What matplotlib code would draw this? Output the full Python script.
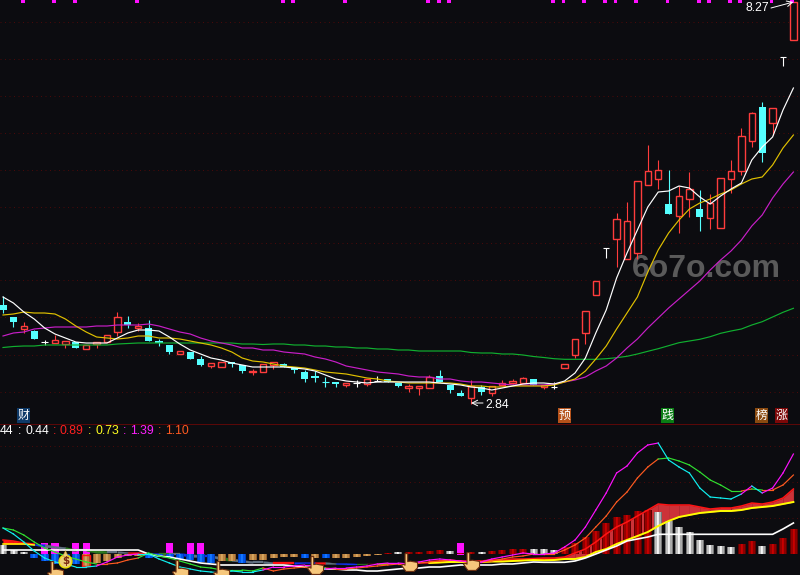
import numpy as np
import matplotlib
matplotlib.use("Agg")
import matplotlib.pyplot as plt
from matplotlib.path import Path

kinds = list("ccrcwrrcrrrrcrcccrccrrccrr" "rccccccrwrwccrrrcccrcrrrrc" "rwrrrrwrrrrrcrrcrrrrrcrwr")
body_top = [305,317,326,331,342,340,341,342,345,342,335,317,322,326,328,341,345,351,352,359,363,362,362,365,371,364,
            362,364,367,372,376,382,382,383,383,379,381,379,383,386,386,377,376,385,393,386,387,386,383,381,378,379,
            385,387,364,339,311,281,248,219,221,181,171,170,204,196,189,209,203,178,171,136,113,107,108,57,2]
body_bot = [310,322,329,339,342,343,344,348,349,344,342,332,325,328,341,343,352,354,359,365,366,367,364,371,372,372,
            365,367,370,379,378,382,384,385,383,384,381,382,386,388,388,388,382,390,396,398,392,393,385,383,383,385,
            387,387,368,355,333,295,248,239,259,253,185,179,214,216,199,217,218,228,179,171,141,153,123,57,40]
wick_high = [296,317,322,330,340,335,341,342,345,342,335,312,316,323,320,339,345,351,352,356,363,362,362,365,369,364,
             362,363,367,370,371,377,382,383,380,379,376,379,383,384,386,375,370,385,390,380,385,386,380,379,377,379,
             385,382,364,339,311,281,248,213,202,181,145,160,170,186,172,190,194,178,160,128,112,102,108,57,2]
wick_low = [313,327,333,339,345,343,348,348,349,348,342,336,328,331,341,346,354,354,359,366,368,367,367,373,375,372,
            369,367,373,382,382,387,387,387,387,386,381,382,387,392,395,388,382,393,396,404,395,396,385,384,383,385,
            389,389,368,358,344,295,258,267,259,259,185,189,214,233,217,231,229,228,193,175,147,162,135,66,40]

ma_white = [297,303,312,319,328,334,338,342,343,343,343,338,333,330,330,331,337,344,350,354,358,360,363,365,367,367,
            367,367,368,369,371,375,379,381,382,383,382,382,382,382,382,382,383,384,385,387,388,390,388,386,384,383,
            383,384,381,373,358,333,310,278,253,230,207,192,191,186,188,197,204,196,189,183,160,147,137,110,88]
ma_yellow = [315,314,312,313,313,314,319,326,332,337,338,339,338,336,336,338,338,339,341,343,345,348,352,358,361,362,
             364,366,367,368,370,372,373,374,376,378,379,381,382,383,383,383,383,383,384,386,386,387,387,386,386,386,
             386,385,382,379,371,359,346,329,313,297,272,250,233,220,209,203,199,194,190,184,179,177,165,148,135]
ma_purple = [336,333,332,329,328,327,327,327,327,326,326,325,325,325,324,326,329,332,334,338,341,343,345,348,348,350,
             350,352,353,354,357,359,362,366,368,370,372,373,374,376,377,377,379,379,381,382,382,383,384,385,385,385,
             385,384,382,380,377,371,366,358,348,339,328,318,308,299,290,281,270,260,251,240,226,215,198,184,172]
ma_green = [347.5,346.5,346,346,345,345,345,345,345,345,345,344,343.5,343,343,343,343,343,343,343,343,343,343,344,344,344.5,
            344,344,345,345,346,346,347,347,348,348,349,349,350,350,351,351,351,351,351,352.5,353,353,354,354,355,356.5,
            357.5,358.7,359.3,359.3,359.3,359.3,358.7,357.7,356.3,354,351.3,348.7,345.7,342.7,341,339.3,336.7,333.3,331,329,325,321.7,317,312.3,308.3]

bar_kinds = list("sssbbbbbttttttbbbbbbbttbtt" "tttbtbtttttdsddddsddsdddds" "ssdddddddddssssssssddsddd")
bar_tip = [546,551,553,558,561,564,564,564,566,563,561,558,556.5,556.5,558,557,558,559,560,562,563,561,561,563,560,560,
           558,557,557,558,558,558,558,558,557,556,555,553.5,553,553,552.5,552,551,552,554,553,553,552,551,550,550,550,
           550,551,548,544,538,532,524,518,516,512,511,513,522,528,533,541,546,547,548,545,542,547,545,539,530]
magenta_bars = [4,5,7,8,16,18,19,44]
magenta_tip = 543
boxed_bar = 8

osc_white = [550,550,550,550,550,550,550,550,550,550,550,550,550,550,554,556,557,559,561,563,564,565,565,565,565,565,
             565,565,566,567,568,569,569,570,570,571,571,570,569,568,568,567,567,566,565,565,565,565,564,564,563,562,
             562.3,562.3,562.3,561,558,554,550,546,541,539,537,534.3,534.3,534.3,534.3,534.3,534.3,534.3,534.3,534.3,534.3,534.3,534.3,529,523]
band_upper = [540,541,543,544,544,546,547,549,549,550,551,551,552,552,553,553,553,553,554,555,555,557,558,560,561,561,
              562,562,562,562,562,562,563,563,563.5,563.5,563.5,563,563,563,562.5,561.5,561,560.5,561,561,561,560,560,559,559,558.5,
              558,558,557,553,549,542,534,527,522,516,510,504,505,505,505,507,509,508,508,506,503,504,502,498,489]
band_lower = [544,544,544,545,547,548,550,551,551,553,553,553,553,554,556,555,555,555,557,557,557,560,561,562,563,563,
              564,564,564,563,563.5,564,564,564.5,564.5,564,564,564,564,563.5,563,563,562.5,562,562,562,562,561.5,561.5,561,560.5,560,
              560.3,560,559,559,557,552,549,544,540,536,532,526,521,517,515,513,512,511,511,510,508,507,506,504,502]
band_kinds = list("rrbbssgsggssrrbgsbsbsgssss" "rrbbrsbbgrymrrrrrrrrrrrrrr") + ["r"] * 25
fast_line = [528,534,542,551,558,562,564,567,567,566,562,557,555,554,554,559,563,567,569,571,572,573,571,572,572,570,
             567,567,566,565,565,569,568,568,567,566,564,563,563,564,562,560,559,560,561,562,562,559,557,555,553,554,
             554,553,547,540,527,510,493,473,466,453,445,443,460,467,473,488,497,498,499,494,486,493,488,473,454]
slow_line = [528,530,535,542,548,552,556,559,562,564,564,563,560,558,553,556,558,561,564,567,568,570,570,570,571,568,
             571,569,568,567,567,568,569,569,568,567,566,565,564,564,563,562,561,560,561,563,562,561,559,557,556,554,
             554,554,550,545,538,527,516,502,492,478,467,459,458,461,465,472,480,485,491,491,489,490,490,485,475]

top_marks = [2,5,7,13,27,28,33,41,42,43,53,54,56,58,59,61,64,67,68,70,71,74,76]
hand_idx = [5,17,21,30,39,45]
hand_row = [570,569,570,565,562,561]
bag_idx = 6
bag_row = 559
main_grid = [22,59,96,133,170,207,243,280,317,355,392]
sub_grid = [446,482,518]
high_label, low_label = "8.27", "2.84"
badges = ["财","预","践","榜","涨"]
badge_colors = ["#0f3a68","#b5521a","#0a7d14","#8a4a10","#7d0808"]
badge_pos = [23.5,564.5,667.5,761.5,781.5]
readout = ["44",":","0.44",":","0.89",":","0.73",":","1.39",":","1.10"]
readout_x = [0,18,25,53,60,88,95,123,130,158,165]
readout_c = ["white","white","white","#ff2020","#ff2020","#ffff20","#ffff20","#ff20ff","#ff20ff","#ff5a20","#ff5a20"]

BG = "#0c0c10"
RED = "#ff3c3c"
CYAN = "#55ffff"
THIN = 0.8
EDGE = 1.0
LINE = 0.85
STEP = 10.4
def xi(px):
    return (px - 3) / STEP

fig = plt.figure(figsize=(8, 5.75), dpi=100, facecolor=BG)
ax = fig.add_axes([0, 0, 1, 1], facecolor=BG)
ax.axis("off")

# watermark and grid
ax.text(xi(632), 277, "6o7o.com", color="#5a5a5a", fontsize=23, fontweight="bold",
        family="Liberation Sans", ha="left", va="baseline", zorder=1)
for r in main_grid + sub_grid:
    ax.axhline(r, color="#480a0a", lw=0.72, ls=(0, (1, 3.5)), zorder=1)
ax.axhline(423.5, color="#5a0808", lw=0.72, zorder=1)

# candles
n = len(kinds)
for i in range(n):
    k = kinds[i]
    col = {"c": CYAN, "r": RED, "w": "white"}[k]
    ax.vlines(i, wick_high[i], wick_low[i], color=col, lw=THIN, zorder=3)
    if body_top[i] == body_bot[i]:
        ax.hlines(body_top[i], i - 0.31, i + 0.31, color=col, lw=THIN, zorder=3)
    elif k == "r":
        ax.bar(i, body_bot[i] - body_top[i], 0.6, bottom=body_top[i], facecolor=BG, edgecolor=RED,
               lw=EDGE, zorder=4)
    else:
        ax.bar(i, body_bot[i] - body_top[i], 0.68, bottom=body_top[i], color=col, lw=0, zorder=4)

xs = np.arange(n)
ax.plot(xs, ma_green, color="#10b030", lw=LINE, zorder=5)
ax.plot(xs, ma_purple, color="#c81ec8", lw=LINE, zorder=5)
ax.plot(xs, ma_yellow, color="#e0c000", lw=LINE, zorder=5)
ax.plot(xs, ma_white, color="white", lw=LINE, zorder=5)

# top ticks
ax.bar(np.array(top_marks) - 0.1, 2.5, 0.36, bottom=0, color="#ff10ff", lw=0, zorder=6)

# value labels
ax.annotate("", xy=(76, 2), xytext=(xi(771), 8),
            arrowprops=dict(arrowstyle="->", color="white", lw=0.7, shrinkA=0, shrinkB=0), zorder=7)
ax.text(xi(746), 8, high_label, color="white", fontsize=8.8, family="Liberation Sans", va="center", ha="left", zorder=7)
ax.annotate("", xy=(45, 403), xytext=(xi(483), 403),
            arrowprops=dict(arrowstyle="->", color="white", lw=0.7, shrinkA=0, shrinkB=0), zorder=7)
ax.text(xi(485), 405, low_label, color="white", fontsize=8.8, family="Liberation Sans", va="center", ha="left", zorder=7)

# badges
for t, c, p in zip(badges, badge_colors, badge_pos):
    ax.text(xi(p), 415.5, t, color="white", fontsize=8.6, family=["Noto Sans CJK SC", "DejaVu Sans"],
            ha="center", va="center", zorder=7,
            bbox=dict(boxstyle="square,pad=0.08", facecolor=c, edgecolor="none"))

# readout row
for t, x, c in zip(readout, readout_x, readout_c):
    ax.text(xi(x), 431, t, color=c, fontsize=8.8, family="Liberation Sans", ha="left", va="center", zorder=7)

# magenta bars
for i in magenta_bars:
    ax.bar(i, 554.5 - magenta_tip, 0.68, bottom=magenta_tip, color="#ff10ff", lw=0, zorder=2)

# band fill
band_col = {"r": "#ff1414", "b": "#1030f0", "s": "#5f7080", "g": "#2c7a20", "y": "#f0f000", "m": "#e020e0"}
for i in range(n - 1):
    c = band_col[band_kinds[i]]
    if i >= 53:
        c = "#cc3238"
    ax.fill_between([i, i + 1], band_upper[i:i + 2], band_lower[i:i + 2], color=c, lw=0.2, zorder=2.2)

# gradient bars
grads = {
    "s": [(120, 120, 120), (190, 190, 190), (245, 245, 245), (235, 235, 235), (170, 170, 170), (115, 115, 115)],
    "d": [(95, 0, 0), (150, 0, 0), (200, 0, 0), (190, 0, 0), (140, 0, 0), (90, 0, 0)],
    "t": [(150, 100, 45), (190, 135, 70), (215, 165, 95), (210, 160, 90), (185, 130, 65), (145, 95, 45)],
    "b": [(0, 60, 190), (0, 90, 235), (20, 120, 255), (20, 115, 255), (0, 85, 230), (0, 60, 185)],
}
for i in range(n):
    g = np.array(grads[bar_kinds[i]], dtype=float)[None, :, :] / 255
    ax.imshow(g, extent=(i - 0.36, i + 0.36, 554.5, bar_tip[i]), aspect="auto", interpolation="nearest", zorder=3)
ax.bar(boxed_bar, bar_tip[boxed_bar] - 554.5, 0.72, bottom=554.5, facecolor="none", edgecolor="#ff1010",
       lw=1.0, zorder=3.2)

# oscillator lines
ax.plot(xs[:4], band_upper[:4], color="#ff1414", lw=1.1, zorder=4)
ax.plot(xs[:4], band_lower[:4], color="#ffff00", lw=1.1, zorder=4)
ax.plot(xs[41:], band_upper[41:], color="#ff1414", lw=1.1, zorder=4)
ax.plot(xs[41:], band_lower[41:], color="#ffff00", lw=1.4, zorder=4.1)
ax.plot(xs, osc_white, color="white", lw=1.2, zorder=4.2)
for i in range(n - 1):
    up = fast_line[i + 1] <= slow_line[i + 1]
    ax.plot(xs[i:i + 2], slow_line[i:i + 2], color="#ff5a20" if up else "#30e030", lw=LINE, zorder=4.3)
    ax.plot(xs[i:i + 2], fast_line[i:i + 2], color="#ff10ff" if up else "#10f0f0", lw=LINE, zorder=4.4)

# hand and money-bag icons
hand = Path([(-0.5, 1), (-0.2, 1), (-0.2, 0.1), (0.1, 0.15), (0.9, 0.0), (0.9, -0.6), (0.5, -1), (-0.4, -1),
             (-0.9, -0.3), (-0.7, -0.2), (-0.5, -0.3), (-0.5, 1)], closed=True)
ax.scatter(hand_idx, hand_row, s=165, marker=hand, facecolor="#f6c77c", edgecolor="#6b2e10", linewidth=0.8, zorder=8)
ax.scatter([bag_idx], [bag_row + 1.5], s=85, marker="o", facecolor="#ecd078", edgecolor="#e8e000", linewidth=1, zorder=8)
ax.scatter([bag_idx], [bag_row - 6], s=16, marker="^", facecolor="#ecd078", edgecolor="#c8a030", linewidth=0.4, zorder=8)
ax.text(bag_idx, bag_row + 1.5, "$", color="#7a2a10", fontsize=7.5, fontweight="bold", ha="center", va="center", zorder=9)

ax.set_xlim(xi(0), xi(800))
ax.set_ylim(575, 0)
fig.savefig("out.png", dpi=100, facecolor=BG)
